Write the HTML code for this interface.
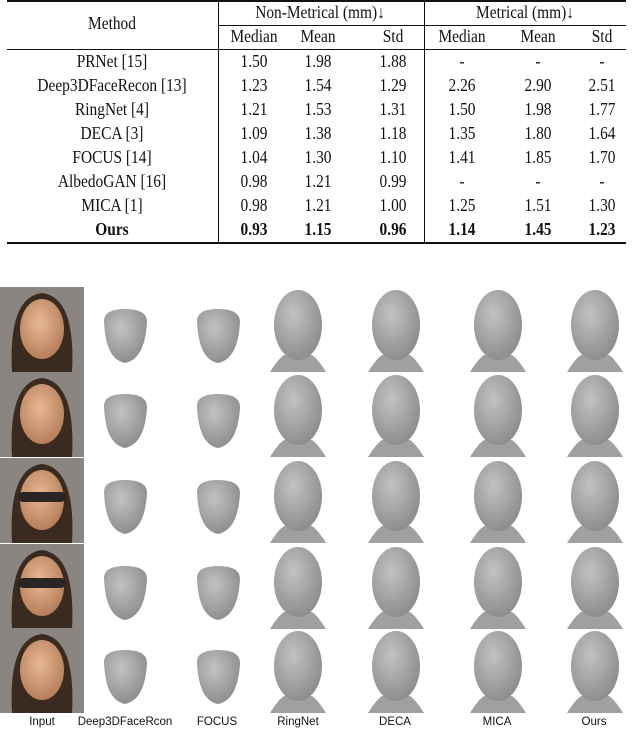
<!DOCTYPE html>
<html><head><meta charset="utf-8"><style>
body{margin:0;width:632px;height:732px;background:#fff;position:relative;overflow:hidden;font-family:"Liberation Serif",serif;color:#111}
.t{position:absolute;font-size:17.5px;line-height:17px;white-space:nowrap;transform:translateX(-50%) scaleX(0.88)}
.b{font-weight:bold}
.r{position:absolute;background:#111}
.lab{position:absolute;font-family:"Liberation Sans",sans-serif;font-size:11.5px;transform:translateX(-50%);top:716px;white-space:nowrap}
</style></head><body>
<div id="table"></div>
<svg id="grid" width="632" height="732" style="position:absolute;left:0;top:0">
<defs>
<radialGradient id="skin" cx="45%" cy="40%" r="60%"><stop offset="0" stop-color="#e8b894"/><stop offset="1" stop-color="#b77f5c"/></radialGradient>
<radialGradient id="mesh" cx="40%" cy="35%" r="65%"><stop offset="0" stop-color="#c2c2c2"/><stop offset="1" stop-color="#8e8e8e"/></radialGradient>
</defs>
</svg>
<div class="lab" style="left:42px">Input</div>
<div class="lab" style="left:125px">Deep3DFaceRcon</div>
<div class="lab" style="left:217px">FOCUS</div>
<div class="lab" style="left:298px">RingNet</div>
<div class="lab" style="left:395px">DECA</div>
<div class="lab" style="left:497px">MICA</div>
<div class="lab" style="left:594px">Ours</div>
<script>
const methods=["PRNet [15]","Deep3DFaceRecon [13]","RingNet [4]","DECA [3]","FOCUS [14]","AlbedoGAN [16]","MICA [1]","Ours"];
const nonMetrical=[["1.50","1.98","1.88"],["1.23","1.54","1.29"],["1.21","1.53","1.31"],["1.09","1.38","1.18"],["1.04","1.30","1.10"],["0.98","1.21","0.99"],["0.98","1.21","1.00"],["0.93","1.15","0.96"]];
const metrical=[["-","-","-"],["2.26","2.90","2.51"],["1.50","1.98","1.77"],["1.35","1.80","1.64"],["1.41","1.85","1.70"],["-","-","-"],["1.25","1.51","1.30"],["1.14","1.45","1.23"]];
const T=document.getElementById('table');
function txt(s,x,y,bold,name){const d=document.createElement('div');d.className='t'+(bold?' b':'');d.style.left=x+'px';d.style.top=y+'px';d.textContent=s;


T.appendChild(d);}
function rule(x,y,w,h,name){const d=document.createElement('div');d.className='r';d.style.left=x+'px';d.style.top=y+'px';d.style.width=w+'px';d.style.height=h+'px';


T.appendChild(d);}
rule(7,0,619,1.5,'top-rule');rule(218,25,408,1,'group-rule');rule(7,49,619,1,'header-rule');rule(7,242,619,1.5,'bottom-rule');
rule(218,0,1,243,'divider-1');rule(424,0,1,243,'divider-2');
txt('Method',112,15,false,'method-header');
txt('Non-Metrical (mm)↓',320,4,false,'non-metrical-header');
txt('Metrical (mm)↓',525,4,false,'metrical-header');
const cx=[254,318,393,462,538,602];const sub=['Median','Mean','Std','Median','Mean','Std'];
sub.forEach((s,i)=>txt(s,cx[i],28,false,'subheader-'+s.toLowerCase()));
methods.forEach((m,r)=>{const y=53+r*24;const bold=r===7;
txt(m,112,y,bold,'method-'+m.split(' ')[0].toLowerCase());
nonMetrical[r].forEach((v,i)=>txt(v,cx[i],y,bold,'value-nonmetrical'));
metrical[r].forEach((v,i)=>txt(v,cx[i+3],y,bold,'value-metrical'));});
const S=document.getElementById('grid');const NS='http://www.w3.org/2000/svg';
function el(t,a,name){const e=document.createElementNS(NS,t);for(const k in a)e.setAttribute(k,a[k]);


S.appendChild(e);return e;}
const rows=[287,372,458,544,628];
rows.forEach((y0,r)=>{
el('rect',{x:0,y:y0,width:84,height:85,fill:'#8a8580'},'input-photo-bg');
el('path',{d:`M12 ${y0+85} Q8 ${y0+10} 42 ${y0+6} Q76 ${y0+10} 72 ${y0+85}Z`,fill:'#3a2a20'},'input-hair');
el('ellipse',{cx:42,cy:y0+42,rx:22,ry:30,fill:'url(#skin)'},'input-face');
if(r==2||r==3){el('rect',{x:18,y:y0+34,width:48,height:10,rx:5,fill:'#2a2522'},'sunglasses');}
[125,218].forEach(c=>{el('path',{d:`M${c-21} ${y0+33} Q${c-20} ${y0+22} ${c} ${y0+22} Q${c+22} ${y0+22} ${c+22} ${y0+35} Q${c+20} ${y0+72} ${c} ${y0+76} Q${c-20} ${y0+72} ${c-21} ${y0+33}Z`,fill:'url(#mesh)'},'mask-mesh');});
[298,396,498,595].forEach(c=>{
el('path',{d:`M${c-28} ${y0+85} Q${c-20} ${y0+72} ${c-14} ${y0+68} L${c+14} ${y0+68} Q${c+20} ${y0+72} ${c+28} ${y0+85}Z`,fill:'#a0a0a0'},'head-neck');
el('ellipse',{cx:c,cy:y0+38,rx:24,ry:35,fill:'url(#mesh)'},'head-mesh');});
});
</script>
</body></html>
